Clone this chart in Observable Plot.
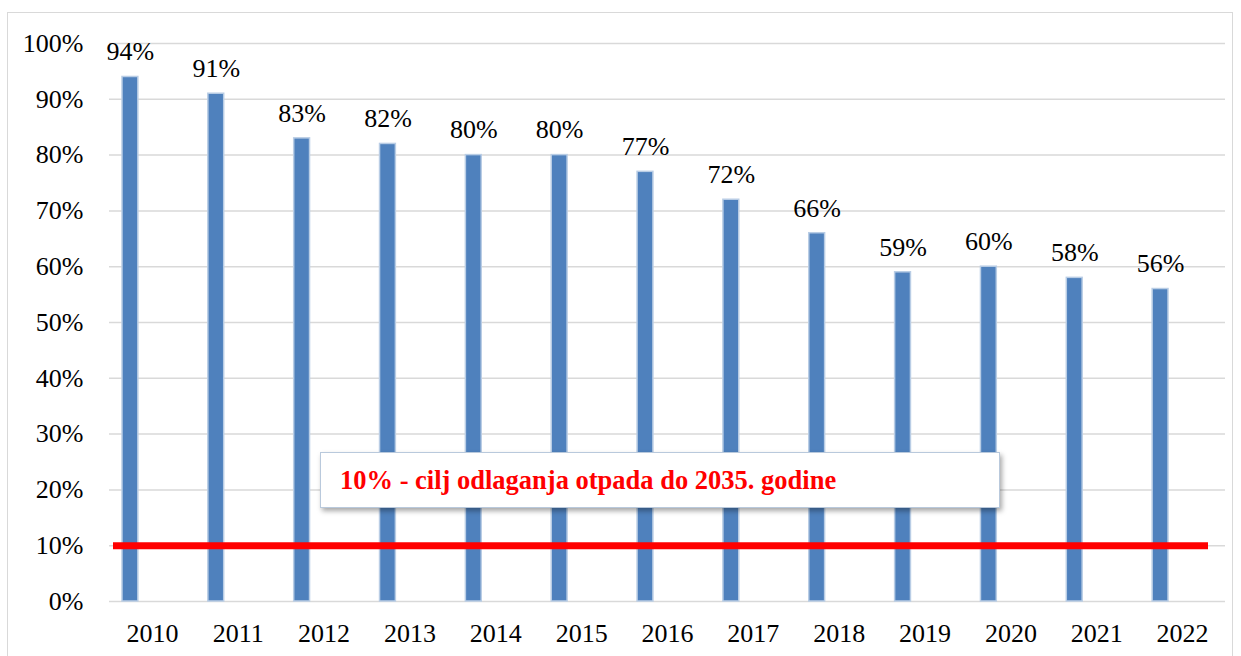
<!DOCTYPE html>
<html>
<head>
<meta charset="utf-8">
<script src="https://cdn.jsdelivr.net/npm/d3@7"></script>
<script src="https://cdn.jsdelivr.net/npm/@observablehq/plot@0.6"></script>
<style>
  html, body { margin: 0; padding: 0; background: #fff; }
  #wrap { position: relative; width: 1241px; height: 656px; overflow: hidden; }
  #frame { position: absolute; left: 7px; top: 12px; width: 1226px; height: 660px; border: 1px solid #d9d9d9; box-sizing: border-box; }
  #chart { position: absolute; left: 0; top: 0; }
  #chart svg, #chart text { font-family: "Liberation Serif", "Times New Roman", serif !important; }
  #note {
    position: absolute; left: 320px; top: 452px; width: 680px; height: 56px;
    box-sizing: border-box; background: #fff; border: 1px solid #b9c9dc;
    box-shadow: 2px 3px 5px rgba(0,0,0,0.35);
    font-family: "Liberation Serif", "Times New Roman", serif; font-weight: bold;
    font-size: 26.5px; color: #ff0000; padding-left: 19px; line-height: 54px;
  }
</style>
</head>
<body>
<div id="wrap">
  <div id="frame"></div>
  <div id="chart"></div>
  <div id="note"></div>
</div>
<script>
const years = ["2010","2011","2012","2013","2014","2015","2016","2017","2018","2019","2020","2021","2022"];
const shares = [94, 91, 83, 82, 80, 80, 77, 72, 66, 59, 60, 58, 56];
const yTicks = [0, 10, 20, 30, 40, 50, 60, 70, 80, 90, 100];
const targetValue = 10;
const noteText = "10% - cilj odlaganja otpada do 2035. godine";

const data = years.map((y, i) => ({year: y, value: shares[i]}));
const serif = "Liberation Serif, Times New Roman, serif";

const chart = Plot.plot({
  width: 1241,
  height: 656,
  marginLeft: 109,
  marginRight: 16,
  marginTop: 43,
  marginBottom: 55,
  style: {fontFamily: serif, fontSize: "26px", color: "#000", background: "transparent"},
  x: {domain: years, padding: 0, round: false, label: null},
  y: {domain: [0, 100], label: null},
  marks: [
    Plot.gridY(yTicks, {stroke: "#d9d9d9", strokeOpacity: 1, strokeWidth: 1.5}),
    Plot.barY(data, {x: "year", y: "value", fill: "#4f81bd", stroke: "#b9cde5", strokeWidth: 1.5, insetLeft: 13, insetRight: 57}),
    Plot.text(data, {x: "year", y: "value", text: d => d.value + "%", dx: -22, dy: -25, fontSize: 26, fontFamily: serif, fill: "#000"}),
    Plot.ruleY([targetValue], {stroke: "#ff0000", strokeWidth: 7, insetLeft: 4, insetRight: 17}),
    Plot.axisX({tickSize: 0, tickPadding: 22, fontSize: 26, fontFamily: serif, label: null}),
    Plot.axisY({ticks: yTicks, tickFormat: d => d + "%", tickSize: 0, tickPadding: 26, fontSize: 26, fontFamily: serif, label: null})
  ]
});
document.getElementById("chart").appendChild(chart);
document.getElementById("note").textContent = noteText;
</script>
</body>
</html>
